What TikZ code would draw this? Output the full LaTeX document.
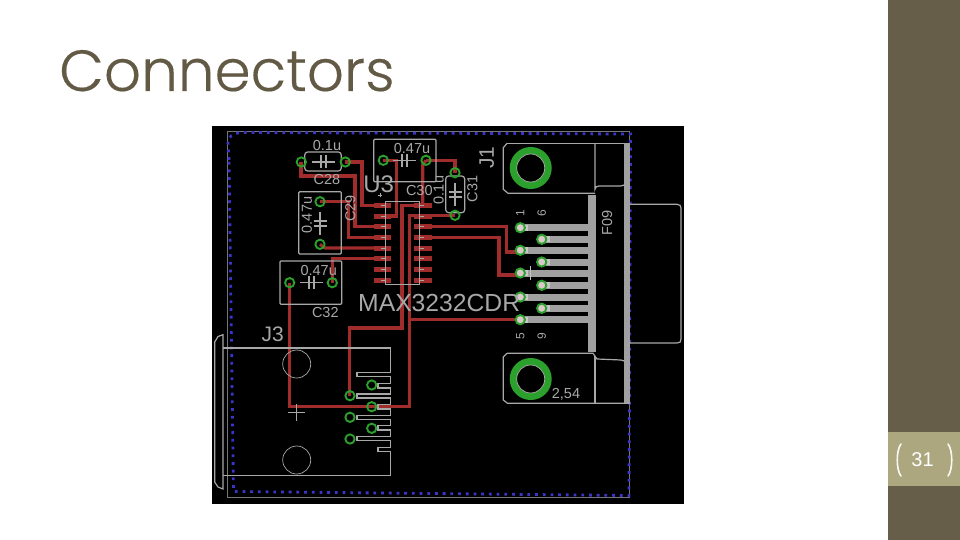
\documentclass[tikz,border=0pt]{standalone}
\usepackage{fontspec}
\setmainfont{Liberation Sans}
\newfontfamily\titlefont[UprightFont=* Light,FakeBold=0.25]{Poppins}
\definecolor{olivedark}{HTML}{665E48}
\definecolor{oliveband}{HTML}{ACA77E}
\definecolor{titlecol}{HTML}{625A45}
\definecolor{trace}{HTML}{A02C2C}
\definecolor{ring}{HTML}{2CA02C}
\definecolor{silk}{HTML}{A8A8A8}
\definecolor{bar}{HTML}{A0A0A0}
\definecolor{bluedot}{HTML}{3A34C8}
\newcommand{\fs}[1]{\fontsize{#1}{#1}\selectfont}
\tikzset{
  tr/.style={draw=trace,line width=3.2pt,line join=miter},
  smd/.style={draw=trace,line width=5pt},
  sk/.style={draw=silk,line width=1.2pt},
  skthin/.style={draw=silk,line width=.7pt},
  plate/.style={draw=silk,line width=2pt},
  padring/.style={circle,draw=ring,line width=1.9pt,minimum size=9.3pt,inner sep=0pt},
  pinring/.style={circle,draw=ring,line width=1.9pt,minimum size=9.3pt,inner sep=0pt,fill=silk!60!trace!40},
  lbl/.style={text=silk,inner sep=0pt},
  finger/.style={draw=bar,line width=7pt},
  fingertip/.style={draw=bar!60!white,line width=6pt},
}
\begin{document}
\begin{tikzpicture}[x=1pt,y=-1pt]
\useasboundingbox (0,0) rectangle (960,540);
\fill[white] (0,0) rectangle (960,540);
% side bar
\fill[olivedark] (888,0) rectangle (960,540);
\fill[oliveband] (888,432) rectangle (960,485.5);
\draw[white!92!oliveband,line width=1.6pt,line cap=round] (901,444) .. controls (896,450) and (896,470) .. (901,476);
\draw[white!92!oliveband,line width=1.6pt,line cap=round] (948,444) .. controls (953,450) and (953,470) .. (948,476);
\node[text=white,inner sep=0pt] (pagenum) at (922.5,460) {\fs{20}31};
% title
\node[anchor=base west,text=titlecol,inner sep=0pt] (title) at (59,91) {\titlefont\fs{58}Connectors};
% board
\fill[black] (212,126) rectangle (684,504);
\draw[draw=silk!70!black,line width=.8pt] (227,131) rectangle (629.5,497.5);
\draw[bluedot,line width=2.8pt,dash pattern=on 2.8pt off 4.9pt] (229,160) -- (228,142) .. controls (228,137) and (232,134) .. (240,132.5) -- (630.5,134) -- (629,495.5) -- (233.5,491.5) -- cycle;
% traces
\draw[tr] (301,162) -- (301,176) -- (355,176) -- (355,226.3) -- (391,226.3);
\draw[tr] (345.3,162) -- (362,162) -- (362,205.3) -- (391,205.3);
\draw[tr] (320,201.7) -- (348.7,201.7) -- (348.7,237.3) -- (391,237.3);
\draw[tr] (320,244.3) -- (325,248) -- (391,248);
\draw[tr] (383.3,160.3) -- (396.3,160.3) -- (396.3,216) -- (374,216);
\draw[tr] (426,160.3) -- (422.7,165) -- (422.7,205.3);
\draw[tr] (426,160.3) -- (455,160.3) -- (455,172.7);
\draw[tr] (455,215.3) -- (409.7,215.3) -- (409.7,406.7) -- (289.7,406.7) -- (289.7,282.7);
\draw[tr] (432,205.3) -- (402,205.3) -- (402,328) -- (349.7,328) -- (349.7,395.7);
\draw[tr] (414,226.3) -- (506.3,226.3) -- (506.3,252) -- (520.3,252);
\draw[tr] (414,237.3) -- (499,237.3) -- (499,275) -- (520.3,275);
\draw[tr] (409.7,319.7) -- (520.3,319.7);
\draw[tr] (332.3,282.7) -- (332.3,258.7) -- (391,258.7);
% SOIC pads
\foreach \y in {205.3,216,226.3,237.3,248,258.7,269.7,280.3}{
  \draw[smd] (374,\y) -- (391,\y);
  \draw[smd] (414.3,\y) -- (432,\y);
  \draw[skthin] (381,\y) -- (385.7,\y);
  \draw[skthin] (419.3,\y) -- (424,\y);
}
% DB9 fingers
\foreach \x/\y in {520.3/227.7,520.3/250.3,520.3/273,520.3/297,520.3/319.7,541.7/239.3,541.7/262,541.7/285.3,541.7/308.3}{
  \draw[finger] (\x,\y) -- (590,\y);
  \draw[fingertip] (\x,\y) -- ({\x+8},\y);
}
\fill[bar] (588,195) rectangle (595.7,352.3);
\fill[bar] (624.3,143.3) rectangle (630,403.3);
\draw[draw=silk!70!white,line width=.6pt] (530.7,266) -- (530.7,280);
% connector outline
\draw[sk] (507,143.3) -- (624.3,143.3);
\draw[sk] (507,143.3) -- (503.3,147.7) -- (503.3,189.3) -- (508,193.3) -- (595,193.3);
\draw[sk] (595,143.3) -- (595,189.3) .. controls (595,187) and (597,186) .. (599,186) -- (620.7,186) -- (624.3,185);
\draw[sk] (630,204.3) -- (677,204.3) .. controls (680,204.3) and (681,206) .. (681,208) -- (681,339) .. controls (681,342) and (680,343) .. (677,343) -- (630,343) -- (628,346);
\draw[sk] (507,353.3) -- (593,353.3) -- (597,359) -- (621,360) -- (624.3,361);
\draw[sk] (507,353.3) -- (503.3,357) -- (503.3,400) -- (507.5,403.3) -- (630,403.3);
\draw[sk] (595,356) -- (595,403.3);
% mounting holes
\foreach \n/\y in {holea/168,holeb/379}{
  \node[circle,draw=ring,line width=7pt,minimum size=35pt,inner sep=0pt] (\n) at (530.7,\y) {};
  \draw[skthin] (530.7,\y) circle (14);
}
% chip outline
\draw[sk] (385.7,201.3) rectangle (419.3,284.7);
% capacitor outlines
\draw[sk,rounded corners=3pt] (304.7,152) rectangle (341.3,171);
\draw[sk,rounded corners=1pt] (373.7,139.3) rectangle (436,181.7);
\draw[sk,rounded corners=1pt] (298.7,191.7) rectangle (341.3,254);
\draw[sk,rounded corners=1pt] (280,261) rectangle (341.7,304.3);
\draw[sk,rounded corners=3pt] (445.7,176) rectangle (464.7,212.7);
% capacitor symbols
\foreach \x/\y in {323.7/162,404.7/160.3,311/282.7}{
  \draw[sk] ({\x-11.5},\y) -- ({\x+11.5},\y);
  \draw[plate] ({\x-2.5},{\y-6.5}) -- ({\x-2.5},{\y+6.5});
  \draw[plate] ({\x+2.5},{\y-6.5}) -- ({\x+2.5},{\y+6.5});
}
\foreach \x/\y in {320/223,455/194.3}{
  \draw[sk] (\x,{\y-11.5}) -- (\x,{\y+11.5});
  \draw[plate] ({\x-6.5},{\y-2.5}) -- ({\x+6.5},{\y-2.5});
  \draw[plate] ({\x-6.5},{\y+2.5}) -- ({\x+6.5},{\y+2.5});
}
% J3 footprint
\draw[sk] (223,348) -- (390.3,348) -- (390.3,372.3) -- (357,372.3) -- (357,376.7) -- (390.3,376.7) -- (390.3,383.3) -- (378,383.3) -- (378,388) -- (390.3,388) -- (390.3,394) -- (357,394) -- (357,398) -- (390.3,398) -- (390.3,404.7) -- (378,404.7) -- (378,409) -- (390.3,409) -- (390.3,415.7) -- (357,415.7) -- (357,419.7) -- (390.3,419.7) -- (390.3,425.7) -- (378,425.7) -- (378,430) -- (390.3,430) -- (390.3,436.7) -- (357,436.7) -- (357,440.7) -- (390.3,440.7) -- (390.3,447.3) -- (378,447.3) -- (378,451.3) -- (390.3,451.3) -- (390.3,475.7) -- (223,475.7);
\draw[sk] (223,334.7) -- (218,336.5) -- (214.7,342) -- (214.7,482) -- (218,487) -- (223,489) -- cycle;
\draw[skthin] (296.7,364) circle (14);
\draw[skthin] (296.7,460) circle (14);
\draw[skthin] (288,412.3) -- (305,412.3);
\draw[skthin] (296.7,404) -- (296.7,421);
% pads
\foreach \n/\x/\y in {pa/301.3/162,pb/345.3/162,pc/320/201.7,pd/320/244.3,pe/383.3/160.3,pf/426/160.3,pg/455/172.7,ph/455/215.3,pi/289.7/282.7,pj/332.3/282.7,qa/350/395.7,qb/350/417.3,qc/350/439,qd/371.7/385,qe/371.7/406.7,qf/371.7/428.3}{
  \node[padring] (\n) at (\x,\y) {};
}
\foreach \n/\x/\y in {ra/520.3/227.7,rb/520.3/250.3,rc/520.3/273,rd/520.3/297,re/520.3/319.7,rf/541.7/239.3,rg/541.7/262,rh/541.7/285.3,ri/541.7/308.3}{
  \node[pinring] (\n) at (\x,\y) {};
}
% labels
\node[lbl] (t1) at (327,145.3) {\fs{14.5}0.1u};
\node[lbl] (t2) at (327,179.3) {\fs{14.5}C28};
\node[lbl] (t3) at (412,148.3) {\fs{14.5}0.47u};
\node[lbl] (t4) at (419.3,190.3) {\fs{14.5}C30};
\node[lbl,rotate=90] (t5) at (307,215) {\fs{14.5}0.47u};
\node[lbl,rotate=90] (t6) at (350.3,208.3) {\fs{14.5}C29};
\node[lbl] (t7) at (318.7,270.3) {\fs{14.5}0.47u};
\node[lbl] (t8) at (325.3,312.7) {\fs{14.5}C32};
\node[lbl,rotate=90] (t9) at (438.7,190) {\fs{14.5}0.1u};
\node[lbl,rotate=90] (t10) at (472.3,189) {\fs{14.5}C31};
\node[lbl,rotate=90] (t11) at (486.7,157.7) {\fs{21}J1};
\node[lbl,rotate=90] (t12) at (520.3,213) {\fs{12}1};
\node[lbl,rotate=90] (t13) at (541.7,213) {\fs{12}6};
\node[lbl,rotate=90] (t14) at (607,222.7) {\fs{14.5}F09};
\node[lbl,rotate=90] (t15) at (520.3,336) {\fs{12}5};
\node[lbl,rotate=90] (t16) at (541.7,336) {\fs{12}9};
\node[lbl] (t17) at (566,394.7) {\fs{14.5}2,54};
\node[lbl] (t18) at (378.7,184.3) {\fs{24}U3};
\node[lbl,anchor=base west] (t19) at (358,311) {\fs{24.7}MAX3232CDR};
\node[lbl] (t20) at (272.7,334.7) {\fs{21}J3};
\draw[skthin] (380,193) -- (380,197);
\draw[skthin] (378,195) -- (382,195);
\end{tikzpicture}
\end{document}
